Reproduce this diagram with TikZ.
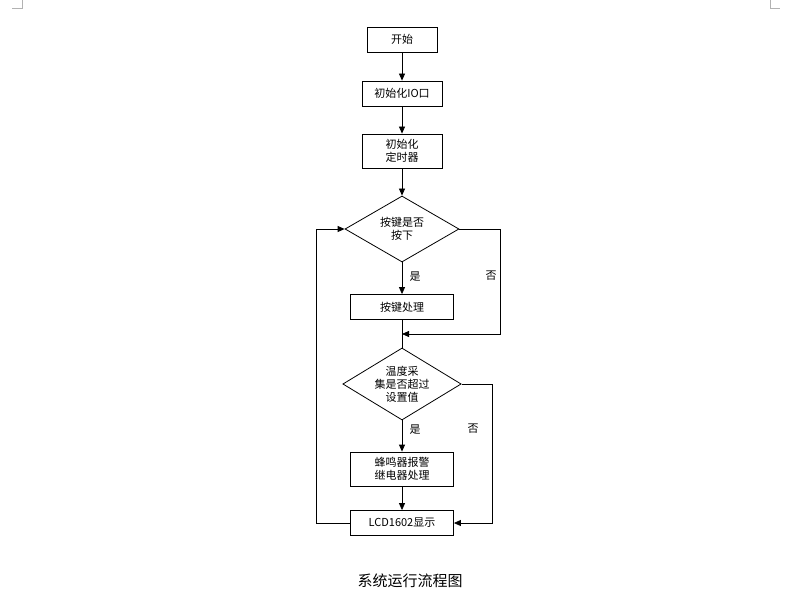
\documentclass[tikz,border=0pt]{standalone}
\usepackage{fontspec}
\setmainfont{Liberation Sans}
\newfontfamily\cjk{Noto Sans CJK SC}
\usetikzlibrary{shapes.geometric,arrows.meta}
\tikzset{
  box/.style={draw,thick,fill=white,minimum width=#1,minimum height=25pt,inner sep=1pt,font=\cjk\fontsize{11}{13}\selectfont,align=center},
  box/.default=80pt,
  dec/.style={draw,thick,diamond,aspect=1.75,minimum width=114pt,minimum height=66pt,inner sep=0pt,font=\cjk\fontsize{11}{13}\selectfont,align=center},
  arr/.style={thick,-{Triangle[length=7pt,width=6pt]}},
  lbl/.style={font=\cjk\fontsize{11}{13}\selectfont}
}
\begin{document}
\begin{tikzpicture}[x=1pt,y=-1pt]
\useasboundingbox (0,0) rectangle (791,612);
\draw[gray!60] (22,0) -- (22,8) -- (12,8);
\draw[gray!60] (770,0) -- (770,8) -- (780,8);
\node[box=70pt] (start) at (402,39.5) {开始};
\node[box] (io) at (402,93.5) {初始化IO口};
\node[box,minimum height=34pt] (timer) at (402,151) {初始化\\定时器};
\node[dec] (key) at (402,229) {按键是否\\按下};
\node[box=103pt] (proc) at (402,307) {按键处理};
\node[dec,minimum height=72pt] (temp) at (402,384) {温度采\\集是否超过\\设置值};
\node[box=103pt,minimum height=34pt] (alarm) at (402,469) {蜂鸣器报警\\继电器处理};
\node[box=103pt] (lcd) at (402,523) {LCD1602显示};
\coordinate (join) at (402,334);
\draw[arr] (start) -- (io);
\draw[arr] (io) -- (timer);
\draw[arr] (timer) -- (key);
\draw[arr] (key) -- node[lbl,pos=0.45,right=4pt] {是} (proc);
\draw[thick] (proc) -- (temp);
\draw[arr] (key.east) -- (500,229) -- (500,334) -- (join);
\draw[arr] (temp) -- node[lbl,pos=0.3,right=4pt] {是} (alarm);
\draw[arr] (alarm) -- (lcd);
\draw[arr] (temp.east) -- (492,384) -- (492,523) -- (lcd.east);
\draw[arr] (lcd.west) -- (316,523) -- (316,229) -- (key.west);
\node[lbl] (no1) at (491,276) {否};
\node[lbl] (no2) at (473,429) {否};
\node[font=\cjk\fontsize{15}{17}\selectfont] (cap) at (410,581) {系统运行流程图};
\end{tikzpicture}
\end{document}
